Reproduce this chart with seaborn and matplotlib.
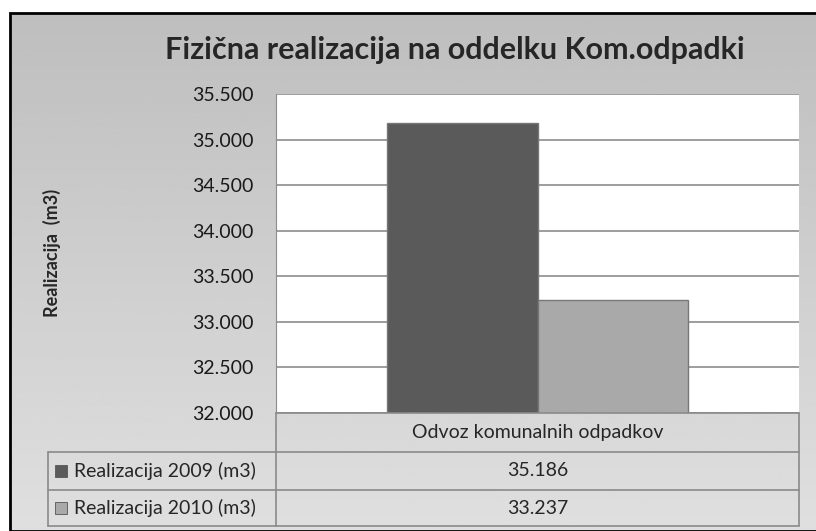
import numpy as np
import pandas as pd
import matplotlib
matplotlib.use("Agg")
import matplotlib.pyplot as plt
from matplotlib.patches import Rectangle
from matplotlib.ticker import FuncFormatter
import seaborn as sns

# podatki
category = ["Odvoz komunalnih odpadkov"]
series = ["Realizacija 2009 (m3)", "Realizacija 2010 (m3)"]
values_2009 = [35186]
values_2010 = [33237]
title = "Fizična realizacija na oddelku Kom.odpadki"
ylabel = "Realizacija  (m3)"

df = pd.DataFrame({
    "kat": category * 2,
    "serija": [series[0]] * len(values_2009) + [series[1]] * len(values_2010),
    "vrednost": values_2009 + values_2010,
})

sns.set_style("white")
plt.rcParams["font.family"] = ["Lato", "DejaVu Sans"]

W, H = 816, 531
fig = plt.figure(figsize=(W / 100, H / 100), dpi=100)
fig.patch.set_facecolor("white")

def fx(px):
    return px / W

def fy(py):
    return 1 - py / H

# ozadje z gradientom
bg = fig.add_axes([fx(10), 0, 1 - fx(10), fy(13)], zorder=0)
grad = np.linspace(0.745, 0.875, 256).reshape(-1, 1)
bg.imshow(grad, aspect="auto", cmap="gray", vmin=0, vmax=1, extent=[0, 1, 0, 1], origin="upper")
bg.set_axis_off()
fig.add_artist(Rectangle((fx(10), 0), 1 - fx(10) + 0.01, fy(13), transform=fig.transFigure,
                         fill=False, edgecolor="black", lw=2, zorder=1))

# graf
left, right, top, bottom = 276, 799, 94, 413
ax = fig.add_axes([fx(left), fy(bottom), fx(right - left), (bottom - top) / H], zorder=2)
ax.set_facecolor("white")
sns.barplot(data=df, x="kat", y="vrednost", hue="serija", ax=ax,
            palette=["#5a5a5a", "#a9a9a9"], width=0.575, legend=False,
            edgecolor="#777777", linewidth=1, saturation=1)
ax.set_ylim(32000, 35500)
ax.set_xlim(-0.5, 0.5)
ax.set_yticks(np.arange(32000, 35501, 500))
ax.yaxis.set_major_formatter(FuncFormatter(lambda v, p: f"{v:,.0f}".replace(",", ".")))
ax.grid(axis="y", color="#8c8c8c", lw=1.2)
ax.set_axisbelow(True)
ax.set_xticks([])
ax.set_xlabel("")
ax.set_ylabel("")
ax.tick_params(axis="y", length=0, pad=16, labelsize=14, labelcolor="#1a1a1a")
for s in ["top", "right", "bottom"]:
    ax.spines[s].set_visible(False)
ax.spines["left"].set_color("#8c8c8c")

fig.text(fx(455), fy(50), title, ha="center", va="center", fontsize=22, fontweight="bold")
fig.text(fx(52), fy(253), ylabel, ha="center", va="center", rotation=90, fontsize=13, fontweight="bold")

# tabela s podatki
lc = "#8a8a8a"
tl, tc, tr = 48, left, right
rows = [413, 452, 490, 526]
def hline(y, x0, x1):
    fig.add_artist(plt.Line2D([fx(x0), fx(x1)], [fy(y), fy(y)], color=lc, lw=1.2, zorder=3))
def vline(x, y0, y1):
    fig.add_artist(plt.Line2D([fx(x), fx(x)], [fy(y0), fy(y1)], color=lc, lw=1.2, zorder=3))
hline(rows[0], tc, tr)
hline(rows[1], tl, tr)
hline(rows[2], tl, tr)
hline(rows[3], tl, tr)
vline(tc, rows[0], rows[3])
vline(tr, rows[0], rows[3])
vline(tl, rows[1], rows[3])

fig.text(fx((tc + tr) / 2), fy((rows[0] + rows[1]) / 2), category[0], ha="center", va="center", fontsize=14)
colors = ["#5a5a5a", "#a9a9a9"]
vals = [values_2009[0], values_2010[0]]
for i in range(2):
    yc = (rows[i + 1] + rows[i + 2]) / 2
    fig.add_artist(Rectangle((fx(55), fy(yc + 6)), fx(12), 12 / H, transform=fig.transFigure,
                             facecolor=colors[i], edgecolor="#555555", lw=0.6, zorder=3))
    fig.text(fx(74), fy(yc), series[i], ha="left", va="center", fontsize=14)
    fig.text(fx((tc + tr) / 2), fy(yc), f"{vals[i]:,}".replace(",", "."), ha="center", va="center", fontsize=14)

fig.savefig("out.png", dpi=100)
